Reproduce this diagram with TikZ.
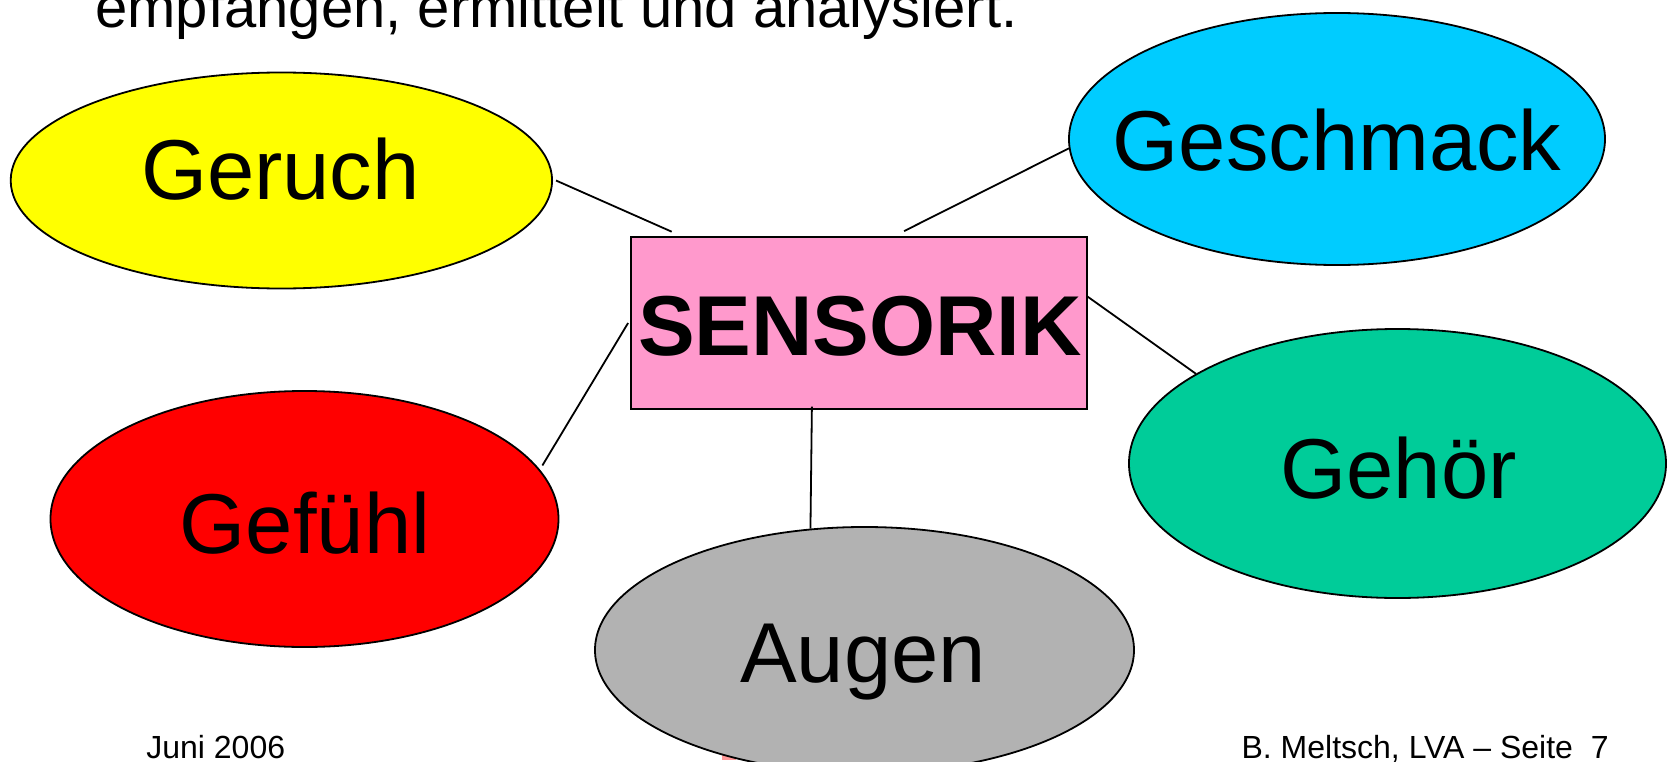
\documentclass[tikz,border=0pt]{standalone}
\usepackage{fontspec}
\setmainfont{Liberation Sans}
\usetikzlibrary{shapes.geometric}
\definecolor{cGeruch}{HTML}{FFFF00}
\definecolor{cGeschmack}{HTML}{00CCFF}
\definecolor{cGehor}{HTML}{00CC99}
\definecolor{cGefuhl}{HTML}{FF0000}
\definecolor{cAugen}{HTML}{B2B2B2}
\definecolor{cSens}{HTML}{FF99CC}
\tikzset{
  blob/.style={ellipse, draw=black, line width=0.9bp, inner sep=0pt},
  lbl/.style={font=\fontsize{42.5bp}{50bp}\selectfont, text height=30.4bp, text depth=0pt, inner sep=0pt},
  link/.style={line width=0.9bp},
  small/.style={font=\fontsize{16bp}{19bp}\selectfont, inner sep=0pt},
}
\begin{document}
\begin{tikzpicture}[x=0.5bp,y=-0.5bp]
\useasboundingbox (0,0) rectangle (1675,762);
\clip (0,0) rectangle (1675,762);
% intro line (cut off at top)
\node[anchor=base west, font=\fontsize{29bp}{34bp}\selectfont, inner sep=0pt] (intro) at (95,27) {empfangen, ermittelt und analysiert.};
% small red patch hidden behind Augen
\fill[red!40] (722,751) rectangle (736,760);
% nodes
\node[blob, fill=cGeruch, minimum width=270.7bp, minimum height=108bp] (geruch) at (281.4,180.5) {};
\node[blob, fill=cGeschmack, minimum width=268bp, minimum height=126bp] (geschmack) at (1337,139) {};
\node[blob, fill=cGehor, minimum width=268.5bp, minimum height=134.5bp] (gehor) at (1397.5,463.5) {};
\node[blob, fill=cGefuhl, minimum width=254bp, minimum height=128bp] (gefuhl) at (304.5,519) {};
\node[blob, fill=cAugen, minimum width=269.5bp, minimum height=123bp] (augen) at (864.5,650) {};
\node[draw=black, fill=cSens, line width=1bp, inner sep=0pt, minimum width=228bp, minimum height=86.3bp] (sens) at (858.7,323) {};
% labels
\node[lbl] (tGeruch) at (280.4,168.8) {Geruch};
\node[lbl] (tGeschmack) at (1337,140) {Geschmack};
\node[lbl] (tGehor) at (1398.5,468) {Gehör};
\node[lbl] (tGefuhl) at (305,523) {Gefühl};
\node[lbl] (tAugen) at (863,651.6) {Augen};
\node[lbl, font=\fontsize{42.5bp}{50bp}\selectfont\bfseries] (tSens) at (860,324.7) {SENSORIK};
% connectors
\draw[link] ([xshift=1.5bp]geruch.east) -- ([xshift=21bp,yshift=2bp]sens.north west);
\draw[link] (geschmack.182) -- ([xshift=22.7bp,yshift=2.3bp]sens.north);
\draw[link] ([xshift=-0.8bp]sens.west) -- ([xshift=3bp]gefuhl.13);
\draw[link] ([xshift=-23.4bp,yshift=1.8bp]sens.south) -- (augen.114);
\draw[link] ([yshift=13.15bp]sens.east) -- (gehor.156);
% footer
\node[small, anchor=base west] (date) at (146,758) {Juni 2006};
\node[small, anchor=base east] (page) at (1609,758) {B. Meltsch, LVA – Seite\ \ 7};
\end{tikzpicture}
\end{document}
